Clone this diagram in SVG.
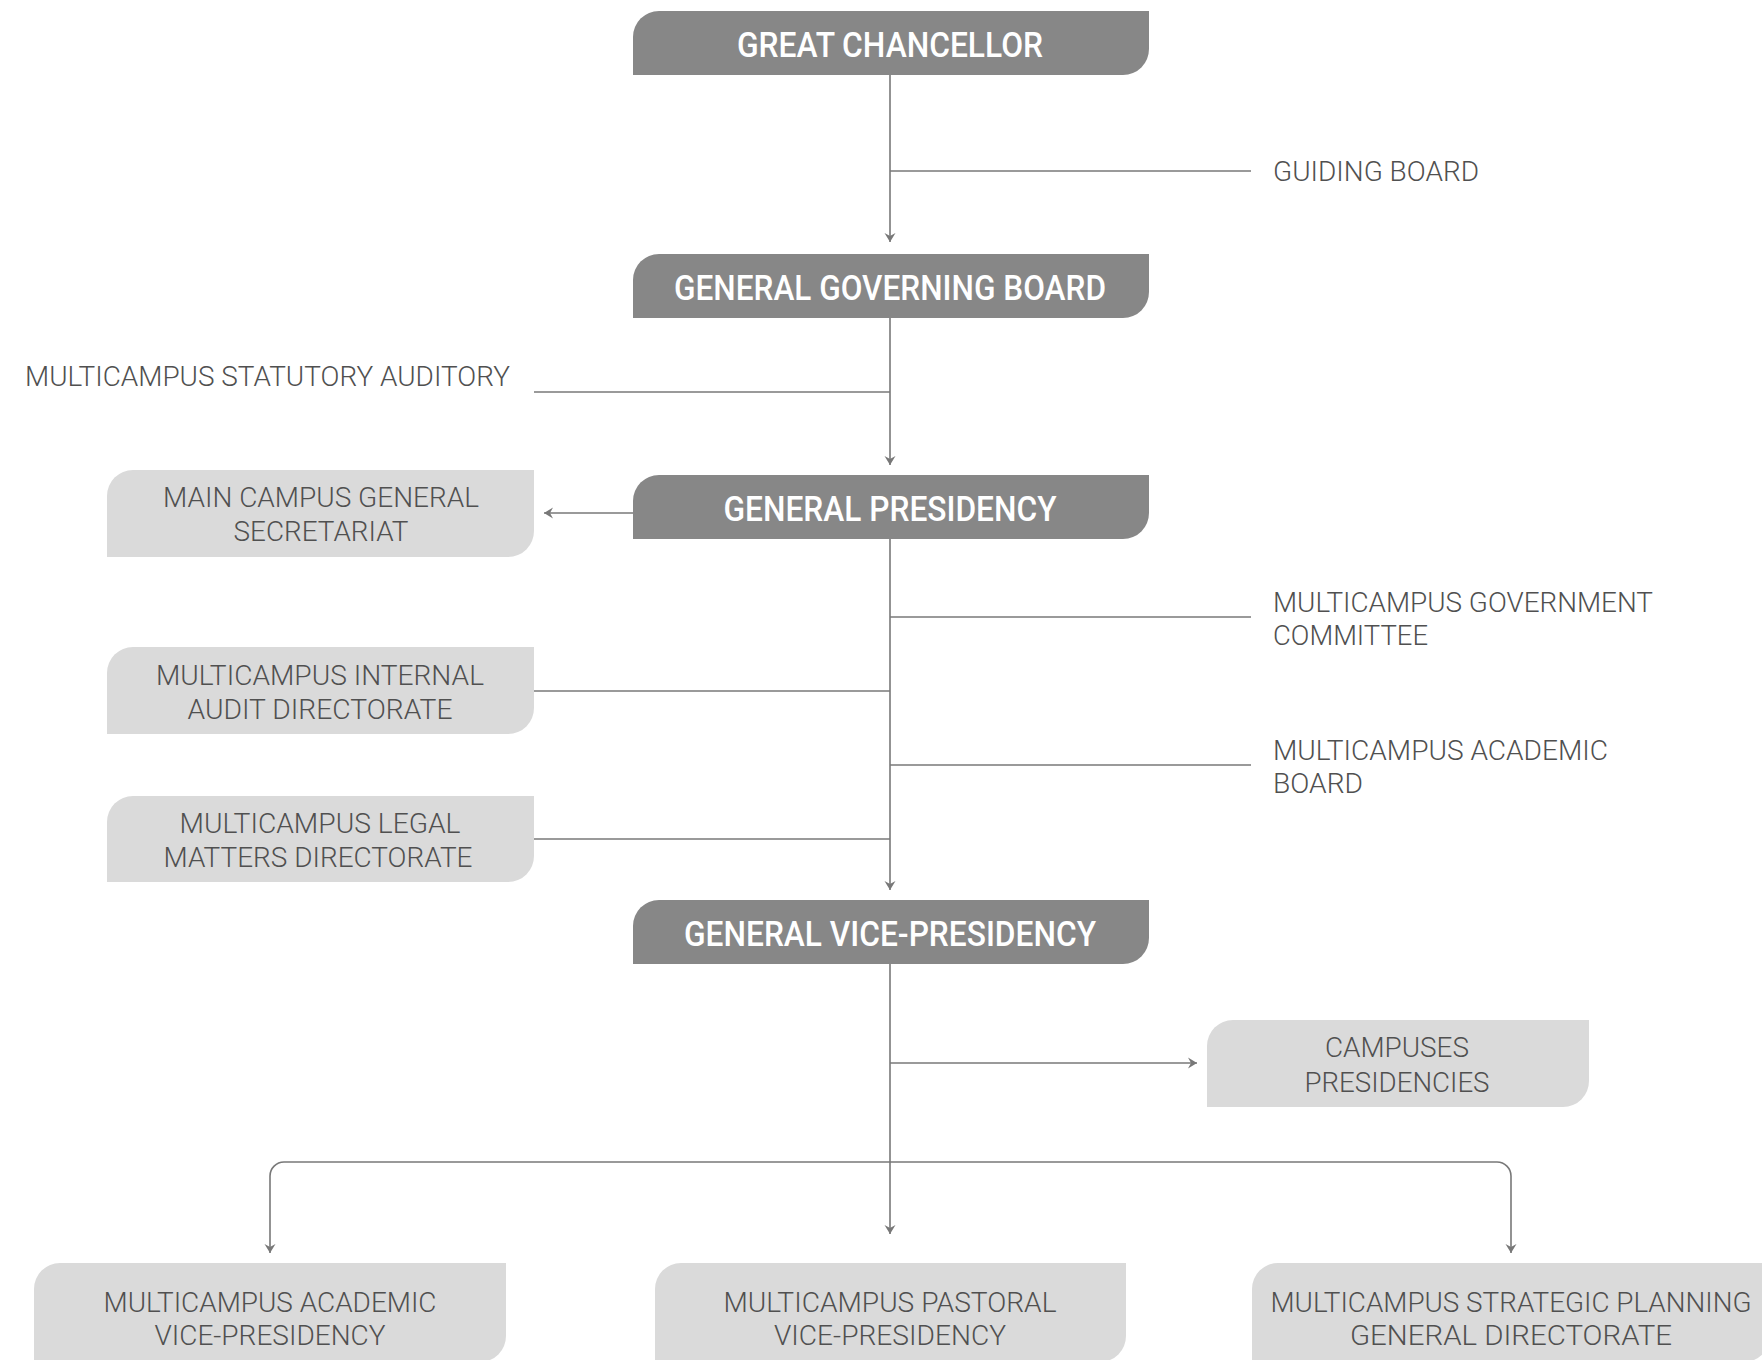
<svg xmlns="http://www.w3.org/2000/svg" width="1762" height="1360" viewBox="0 0 1762 1360">
<style>
  .dark { fill: #878787; }
  .light { fill: #dadada; }
  .title { font-family: Roboto, "Liberation Sans", sans-serif; font-weight: 500; font-size: 35px; fill: #ffffff; text-anchor: middle; }
  .lbl { font-family: Roboto, "Liberation Sans", sans-serif; font-weight: 300; font-size: 28px; fill: #505050; }
  .mid { text-anchor: middle; }
  .conn { fill: none; stroke: #787878; stroke-width: 1.6; }
</style>
<defs>
  <marker id="arr" viewBox="-10 -6 12 12" refX="0" refY="0" markerWidth="12" markerHeight="12" markerUnits="userSpaceOnUse" orient="auto" overflow="visible">
    <path d="M0,0 L-9,-5.5 L-6,0 L-9,5.5 Z" fill="#787878"/>
  </marker>
</defs>
<rect width="1762" height="1360" fill="#ffffff"/>

<g id="connectors">
  <path class="conn" d="M890,75 V242" marker-end="url(#arr)"/>
  <path class="conn" d="M890,171 H1251"/>
  <path class="conn" d="M890,318 V465" marker-end="url(#arr)"/>
  <path class="conn" d="M534,392 H890"/>
  <path class="conn" d="M633,513 H544" marker-end="url(#arr)"/>
  <path class="conn" d="M890,539 V890" marker-end="url(#arr)"/>
  <path class="conn" d="M890,617 H1251"/>
  <path class="conn" d="M534,691 H890"/>
  <path class="conn" d="M890,765 H1251"/>
  <path class="conn" d="M534,839 H890"/>
  <path class="conn" d="M890,964 V1234" marker-end="url(#arr)"/>
  <path class="conn" d="M890,1063 H1197" marker-end="url(#arr)"/>
  <path class="conn" d="M890,1162 H284 A14,14 0 0 0 270,1176 V1253" marker-end="url(#arr)"/>
  <path class="conn" d="M890,1162 H1497 A14,14 0 0 1 1511,1176 V1253" marker-end="url(#arr)"/>
</g>

<g id="great-chancellor">
  <path class="dark" d="M633,37 A26,26 0 0 1 659,11 H1149 V49 A26,26 0 0 1 1123,75 H633 Z"/>
  <text class="title" x="890" y="57" textLength="306" lengthAdjust="spacingAndGlyphs">GREAT CHANCELLOR</text>
</g>

<g id="guiding-board">
  <text class="lbl" x="1273" y="181" textLength="206" lengthAdjust="spacingAndGlyphs">GUIDING BOARD</text>
</g>

<g id="general-governing-board">
  <path class="dark" d="M633,280 A26,26 0 0 1 659,254 H1149 V292 A26,26 0 0 1 1123,318 H633 Z"/>
  <text class="title" x="890" y="300" textLength="432" lengthAdjust="spacingAndGlyphs">GENERAL GOVERNING BOARD</text>
</g>

<g id="statutory-auditory">
  <text class="lbl" x="25" y="386" textLength="485" lengthAdjust="spacingAndGlyphs">MULTICAMPUS STATUTORY AUDITORY</text>
</g>

<g id="general-presidency">
  <path class="dark" d="M633,501 A26,26 0 0 1 659,475 H1149 V513 A26,26 0 0 1 1123,539 H633 Z"/>
  <text class="title" x="890" y="521" textLength="333" lengthAdjust="spacingAndGlyphs">GENERAL PRESIDENCY</text>
</g>

<g id="main-campus-secretariat">
  <path class="light" d="M107,496 A26,26 0 0 1 133,470 H534 V531 A26,26 0 0 1 508,557 H107 Z"/>
  <text class="lbl mid" x="321" y="507" textLength="316" lengthAdjust="spacingAndGlyphs">MAIN CAMPUS GENERAL</text>
  <text class="lbl mid" x="321" y="541" textLength="175" lengthAdjust="spacingAndGlyphs">SECRETARIAT</text>
</g>

<g id="government-committee">
  <text class="lbl" x="1273" y="612" textLength="380" lengthAdjust="spacingAndGlyphs">MULTICAMPUS GOVERNMENT</text>
  <text class="lbl" x="1273" y="645" textLength="155" lengthAdjust="spacingAndGlyphs">COMMITTEE</text>
</g>

<g id="internal-audit">
  <path class="light" d="M107,673 A26,26 0 0 1 133,647 H534 V708 A26,26 0 0 1 508,734 H107 Z"/>
  <text class="lbl mid" x="320" y="685" textLength="328" lengthAdjust="spacingAndGlyphs">MULTICAMPUS INTERNAL</text>
  <text class="lbl mid" x="320" y="719" textLength="265" lengthAdjust="spacingAndGlyphs">AUDIT DIRECTORATE</text>
</g>

<g id="academic-board">
  <text class="lbl" x="1273" y="760" textLength="335" lengthAdjust="spacingAndGlyphs">MULTICAMPUS ACADEMIC</text>
  <text class="lbl" x="1273" y="793" textLength="90" lengthAdjust="spacingAndGlyphs">BOARD</text>
</g>

<g id="legal-matters">
  <path class="light" d="M107,822 A26,26 0 0 1 133,796 H534 V856 A26,26 0 0 1 508,882 H107 Z"/>
  <text class="lbl mid" x="320" y="833" textLength="281" lengthAdjust="spacingAndGlyphs">MULTICAMPUS LEGAL</text>
  <text class="lbl mid" x="318" y="867" textLength="309" lengthAdjust="spacingAndGlyphs">MATTERS DIRECTORATE</text>
</g>

<g id="general-vice-presidency">
  <path class="dark" d="M633,926 A26,26 0 0 1 659,900 H1149 V938 A26,26 0 0 1 1123,964 H633 Z"/>
  <text class="title" x="890" y="946" textLength="412" lengthAdjust="spacingAndGlyphs">GENERAL VICE-PRESIDENCY</text>
</g>

<g id="campuses-presidencies">
  <path class="light" d="M1207,1046 A26,26 0 0 1 1233,1020 H1589 V1081 A26,26 0 0 1 1563,1107 H1207 Z"/>
  <text class="lbl mid" x="1397" y="1057" textLength="144" lengthAdjust="spacingAndGlyphs">CAMPUSES</text>
  <text class="lbl mid" x="1397" y="1092" textLength="185" lengthAdjust="spacingAndGlyphs">PRESIDENCIES</text>
</g>

<g id="academic-vice-presidency">
  <path class="light" d="M34,1289 A26,26 0 0 1 60,1263 H506 V1336 A26,26 0 0 1 480,1362 H34 Z"/>
  <text class="lbl mid" x="270" y="1312" textLength="333" lengthAdjust="spacingAndGlyphs">MULTICAMPUS ACADEMIC</text>
  <text class="lbl mid" x="270" y="1345" textLength="231" lengthAdjust="spacingAndGlyphs">VICE-PRESIDENCY</text>
</g>

<g id="pastoral-vice-presidency">
  <path class="light" d="M655,1289 A26,26 0 0 1 681,1263 H1126 V1336 A26,26 0 0 1 1100,1362 H655 Z"/>
  <text class="lbl mid" x="890" y="1312" textLength="333" lengthAdjust="spacingAndGlyphs">MULTICAMPUS PASTORAL</text>
  <text class="lbl mid" x="890" y="1345" textLength="232" lengthAdjust="spacingAndGlyphs">VICE-PRESIDENCY</text>
</g>

<g id="strategic-planning">
  <path class="light" d="M1252,1289 A26,26 0 0 1 1278,1263 H1770 V1336 A26,26 0 0 1 1744,1362 H1252 Z"/>
  <text class="lbl mid" x="1511" y="1312" textLength="481" lengthAdjust="spacingAndGlyphs">MULTICAMPUS STRATEGIC PLANNING</text>
  <text class="lbl mid" x="1511" y="1345" textLength="322" lengthAdjust="spacingAndGlyphs">GENERAL DIRECTORATE</text>
</g>
</svg>
